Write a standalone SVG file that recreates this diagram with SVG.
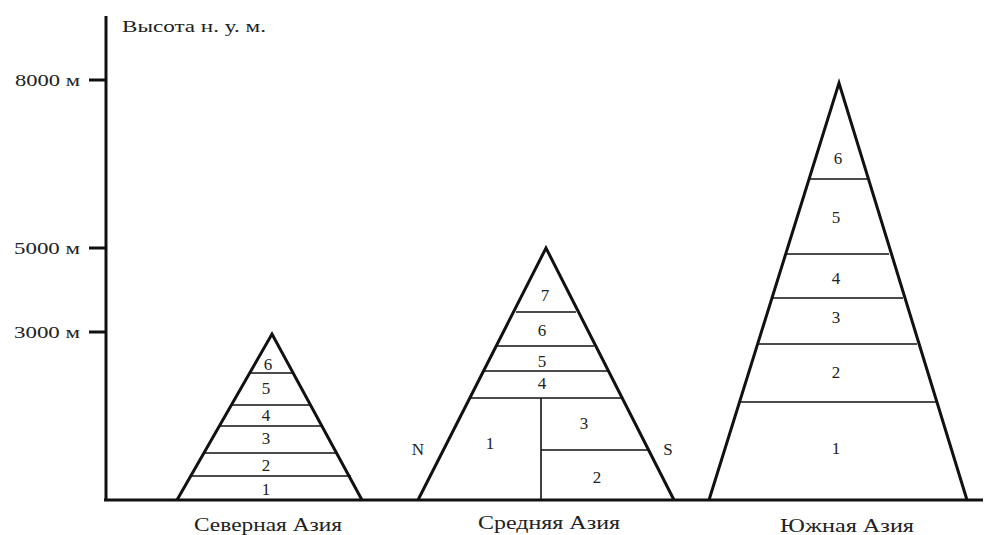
<svg xmlns="http://www.w3.org/2000/svg" width="985" height="535" viewBox="0 0 985 535">
<style>
text{font-family:"Liberation Serif","DejaVu Serif",serif;fill:#222}
.t{font-size:17px}
.n{font-size:17px;text-anchor:middle}
.l{font-size:18px}
.side{fill:none;stroke:#111;stroke-width:3;stroke-linejoin:miter}
.in{stroke:#111;stroke-width:1.6}
.ax{stroke:#111;stroke-width:3}
</style>
<rect width="985" height="535" fill="#fff"/>
<g id="axes">
<line class="ax" x1="106" y1="16" x2="106" y2="501"/>
<line class="ax" x1="104" y1="500" x2="983" y2="500"/>
<line class="ax" x1="89" y1="80" x2="106" y2="80"/>
<line class="ax" x1="89" y1="248" x2="106" y2="248"/>
<line class="ax" x1="89" y1="332" x2="106" y2="332"/>
<text class="t" x="122" y="32" textLength="144" lengthAdjust="spacingAndGlyphs">Высота н. у. м.</text>
<text class="t" x="15" y="86" textLength="65" lengthAdjust="spacingAndGlyphs">8000 м</text>
<text class="t" x="14" y="254" textLength="66" lengthAdjust="spacingAndGlyphs">5000 м</text>
<text class="t" x="14" y="338" textLength="66" lengthAdjust="spacingAndGlyphs">3000 м</text>
</g>
<g id="north">
<line class="in" x1="249" y1="373" x2="294" y2="373"/>
<line class="in" x1="232" y1="405" x2="311" y2="405"/>
<line class="in" x1="220" y1="426" x2="323" y2="426"/>
<line class="in" x1="205" y1="453" x2="338" y2="453"/>
<line class="in" x1="192" y1="476" x2="351" y2="476"/>
<polyline class="side" points="177,500 272,334 362,500"/>
<text class="n" x="268" y="370">6</text>
<text class="n" x="266" y="394">5</text>
<text class="n" x="266" y="421">4</text>
<text class="n" x="266" y="444">3</text>
<text class="n" x="266" y="471">2</text>
<text class="n" x="266" y="495">1</text>
<text class="l" x="194" y="531" textLength="148" lengthAdjust="spacingAndGlyphs">Северная Азия</text>
</g>
<g id="middle">
<line class="in" x1="516" y1="312" x2="576" y2="312"/>
<line class="in" x1="497" y1="346" x2="594" y2="346"/>
<line class="in" x1="483" y1="371" x2="608" y2="371"/>
<line class="in" x1="469" y1="398" x2="622" y2="398"/>
<line class="in" x1="541" y1="398" x2="541" y2="500"/>
<line class="in" x1="541" y1="450" x2="648" y2="450"/>
<polyline class="side" points="418,500 546,248 674,500"/>
<text class="n" x="545" y="301">7</text>
<text class="n" x="542" y="336">6</text>
<text class="n" x="542" y="367">5</text>
<text class="n" x="542" y="389">4</text>
<text class="n" x="584" y="429">3</text>
<text class="n" x="490" y="449">1</text>
<text class="n" x="597" y="483">2</text>
<text class="n" x="418" y="455">N</text>
<text class="n" x="668" y="455">S</text>
<text class="l" x="478" y="529" textLength="142" lengthAdjust="spacingAndGlyphs">Средняя Азия</text>
</g>
<g id="south">
<line class="in" x1="809" y1="179" x2="867" y2="179"/>
<line class="in" x1="787" y1="254" x2="889" y2="254"/>
<line class="in" x1="773" y1="298" x2="903" y2="298"/>
<line class="in" x1="759" y1="344" x2="917" y2="344"/>
<line class="in" x1="741" y1="402" x2="936" y2="402"/>
<polyline class="side" points="709,500 839,83 967,500"/>
<text class="n" x="838" y="164">6</text>
<text class="n" x="836" y="223">5</text>
<text class="n" x="836" y="284">4</text>
<text class="n" x="836" y="323">3</text>
<text class="n" x="836" y="378">2</text>
<text class="n" x="836" y="454">1</text>
<text class="l" x="780" y="532" textLength="134" lengthAdjust="spacingAndGlyphs">Южная Азия</text>
</g>
</svg>
